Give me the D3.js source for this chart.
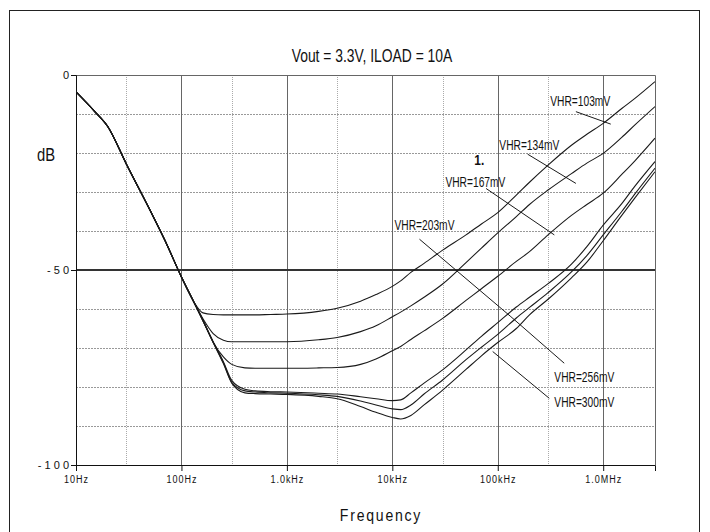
<!DOCTYPE html>
<html>
<head>
<meta charset="utf-8">
<script src="https://cdn.jsdelivr.net/npm/d3@7"></script>
<style>
  body { margin: 0; background: #fff; }
  svg { display: block; }
  text { font-family: "Liberation Sans", Arial, sans-serif; fill: #111; }
</style>
</head>
<body>
<div id="chart"></div>
<script>
// frequency points (Hz) shared by all curves
const freqs = [10, 15, 20, 30, 50, 70, 100, 130, 160, 200, 250, 300, 400, 500, 700,
  1e3, 2e3, 3e3, 5e3, 7e3, 1e4, 1.2e4, 1.5e4, 2e4, 3e4, 5e4, 7e4, 1e5, 1.5e5, 2e5,
  3e5, 5e5, 7e5, 1e6, 1.5e6, 2e6, 3.1e6];

// common low frequency roll-off (10Hz .. 130Hz)
const rolloff = [-4.3, -9.3, -13.2, -22.8, -34.5, -42.5, -51.8, -58.0];

const vhr103 = rolloff.concat([-61.0, -61.4, -61.5, -61.5, -61.5, -61.5, -61.4, -61.3, -60.6, -59.8,
  -58.0, -56.3, -54.2, -52.8, -50.6, -48.3, -44.9, -41.0, -38.2, -35.3, -30.8, -27.5, -23.1,
  -18.0, -15.2, -12.4, -8.6, -6.0, -1.7]);
const vhr134 = rolloff.concat([-62.5, -66.3, -68.0, -68.4, -68.4, -68.4, -68.4, -68.4, -67.9, -67.3,
  -65.8, -64.3, -62.0, -60.8, -59.2, -57.0, -53.6, -48.1, -44.4, -40.5, -36.3, -33.2, -29.5,
  -25.3, -22.6, -20.1, -16.0, -12.8, -8.1]);
const vhr167 = rolloff.concat([-62.8, -68.5, -72.3, -74.2, -75.1, -75.2, -75.2, -75.2, -75.1, -75.0,
  -74.2, -72.8, -70.7, -69.6, -67.8, -65.6, -62.4, -57.8, -54.8, -51.6, -47.8, -45.3, -41.0,
  -36.0, -33.2, -30.3, -25.5, -22.0, -16.2]);
const vhr203 = rolloff.concat([-63.0, -68.4, -73.5, -78.3, -80.6, -81.0, -81.2, -81.3, -81.6, -81.8,
  -82.5, -83.0, -83.5, -83.3, -81.5, -79.0, -75.6, -70.5, -67.0, -63.5, -59.5, -57.0, -53.5,
  -48.5, -44.0, -38.5, -33.0, -28.5, -22.2]);
const vhr256 = rolloff.concat([-63.0, -68.5, -73.8, -78.8, -81.0, -81.3, -81.5, -81.6, -82.0, -82.4,
  -83.6, -84.6, -85.6, -85.8, -84.6, -81.8, -78.2, -73.0, -69.8, -66.5, -62.3, -59.6, -55.8,
  -50.5, -46.3, -41.0, -35.0, -30.5, -23.9]);
const vhr300 = rolloff.concat([-63.0, -68.6, -74.0, -79.0, -81.5, -81.7, -81.8, -81.9, -82.4, -83.0,
  -85.0, -86.5, -87.8, -88.2, -87.3, -84.6, -80.8, -75.5, -72.0, -68.6, -65.0, -61.5, -57.5,
  -52.0, -48.0, -42.5, -36.0, -31.5, -24.8]);

const seriesList = [vhr103, vhr134, vhr167, vhr203, vhr256, vhr300];

// axis ticks
const decadeTicks = [10, 100, 1e3, 1e4, 1e5, 1e6];
const decadeLabels = ['10Hz', '100Hz', '1.0kHz', '10kHz', '100kHz', '1.0MHz'];
const minorTicks = [30, 300, 3e3, 3e4, 3e5];
const dbTicks = [0, -50, -100];
const dbGrid = [-10, -20, -30, -40, -60, -70, -80, -90];

// curve labels: text, anchor (freq, dB), leader start / end (freq, dB)
const labelTexts = ['VHR=103mV', 'VHR=134mV', 'VHR=167mV', 'VHR=203mV', 'VHR=256mV', 'VHR=300mV'];
const labelFreq = [3.15e5, 1.035e5, 3.19e4, 1.05e4, 3.44e5, 3.44e5];
const labelDb = [-7.9, -19.2, -28.6, -39.7, -78.6, -85.0];
const leaderFrom = [[5.51e5, -9.4], [1.92e5, -20.3], [7.75e4, -29.1], [1.81e4, -42.1], [4.27e5, -73.9], [8.95e4, -70.9]];
const leaderTo = [[1.18e6, -12.6], [5.51e5, -27.8], [3.44e5, -41.0], [1.31e5, -61.8], [1.31e5, -61.8], [3.08e5, -82.9]];
const markerText = '1.';
const markerPos = [6.0e4, -23.1];

const W = 710, H = 532;
const margin = { top: 75, right: 55, bottom: 67, left: 76 };
const width = W - margin.left - margin.right;
const height = H - margin.top - margin.bottom;

const svg = d3.select('#chart').append('svg')
  .attr('width', W)
  .attr('height', H);

// narrow text: no condensed font available, so squeeze glyphs horizontally
function narrowText(parent, tx, ty, k, size) {
  return parent.append('text')
    .attr('transform', 'translate(' + tx + ',' + ty + ') scale(' + k + ',1)')
    .attr('font-size', size);
}

// outer frame
svg.append('rect')
  .attr('x', 9.5).attr('y', 10.5)
  .attr('width', 690).attr('height', 540)
  .attr('fill', 'none').attr('stroke', '#222').attr('stroke-width', 1);

const g = svg.append('g')
  .attr('transform', 'translate(' + margin.left + ',' + margin.top + ')');

const x = d3.scaleLog().domain([10, 3.1e6]).range([0, width]);
const y = d3.scaleLinear().domain([-100, 0]).range([height, 0]);

// grid
g.append('g').selectAll('line')
  .data(dbGrid).enter().append('line')
  .attr('x1', 0).attr('x2', width)
  .attr('y1', d => Math.round(y(d)) + 0.5).attr('y2', d => Math.round(y(d)) + 0.5)
  .attr('stroke', '#999').attr('stroke-dasharray', '2,1');

g.append('g').selectAll('line')
  .data(minorTicks).enter().append('line')
  .attr('x1', d => Math.round(x(d)) + 0.5).attr('x2', d => Math.round(x(d)) + 0.5)
  .attr('y1', 0).attr('y2', height)
  .attr('stroke', '#aaa').attr('stroke-dasharray', '1,1');

g.append('g').selectAll('line')
  .data(decadeTicks.slice(1)).enter().append('line')
  .attr('x1', d => Math.round(x(d)) + 0.5).attr('x2', d => Math.round(x(d)) + 0.5)
  .attr('y1', 0).attr('y2', height)
  .attr('stroke', '#666');

// -50 dB line
g.append('line')
  .attr('x1', 0).attr('x2', width)
  .attr('y1', y(-50)).attr('y2', y(-50))
  .attr('stroke', '#333').attr('stroke-width', 2);

// top / right border
g.append('path')
  .attr('d', 'M0,0.5H' + (width + 0.5) + 'V' + height)
  .attr('fill', 'none').attr('stroke', '#666');

// axes
const xAxis = d3.axisBottom(x)
  .tickValues(decadeTicks)
  .tickFormat((d, i) => decadeLabels[i])
  .tickSize(6).tickPadding(4);
const gx = g.append('g')
  .attr('transform', 'translate(0,' + height + ')')
  .call(xAxis);
gx.select('.domain').attr('stroke', '#111');
gx.selectAll('.tick line').attr('stroke', '#111');
gx.selectAll('text')
  .attr('font-size', 11).attr('letter-spacing', '1.2px').attr('fill', '#222')
  .attr('transform', 'scale(0.82,1)')
  .style('font-family', '"Liberation Sans", Arial, sans-serif');

const yAxis = d3.axisLeft(y)
  .tickValues(dbTicks)
  .tickFormat(d => String(d).split('').join(' '))
  .tickSize(5).tickPadding(2);
const gy = g.append('g').call(yAxis);
gy.select('.domain').attr('stroke', '#111');
gy.selectAll('.tick line').attr('stroke', '#111');
gy.selectAll('text')
  .attr('font-size', 11).attr('fill', '#222')
  .style('font-family', '"Liberation Sans", Arial, sans-serif');

// curves
g.append('clipPath').attr('id', 'clip')
  .append('rect').attr('width', width).attr('height', height);

const line = d3.line()
  .x((d, i) => x(freqs[i]))
  .y(d => y(d))
  .curve(d3.curveMonotoneX);

g.append('g').attr('clip-path', 'url(#clip)')
  .selectAll('path')
  .data(seriesList).enter().append('path')
  .attr('d', line)
  .attr('fill', 'none')
  .attr('stroke', '#1a1a1a')
  .attr('stroke-width', 1.1);

// leaders and labels
g.append('g').selectAll('line')
  .data(leaderFrom).enter().append('line')
  .attr('x1', d => x(d[0])).attr('y1', d => y(d[1]))
  .attr('x2', (d, i) => x(leaderTo[i][0])).attr('y2', (d, i) => y(leaderTo[i][1]))
  .attr('stroke', '#1a1a1a').attr('stroke-width', 1);

labelTexts.forEach((t, i) => {
  narrowText(g, x(labelFreq[i]), y(labelDb[i]), 0.73, 14).text(t);
});

narrowText(g, x(markerPos[0]), y(markerPos[1]), 0.85, 14)
  .attr('font-weight', 'bold')
  .text(markerText);

// titles
narrowText(svg, 372, 62, 0.73, 19)
  .attr('text-anchor', 'middle')
  .text('Vout = 3.3V, ILOAD = 10A');

narrowText(svg, 46, 161, 0.78, 19)
  .attr('text-anchor', 'middle')
  .text('dB');

narrowText(svg, 381, 521, 0.88, 16)
  .attr('text-anchor', 'middle')
  .attr('letter-spacing', '2px')
  .text('Frequency');
</script>
</body>
</html>
